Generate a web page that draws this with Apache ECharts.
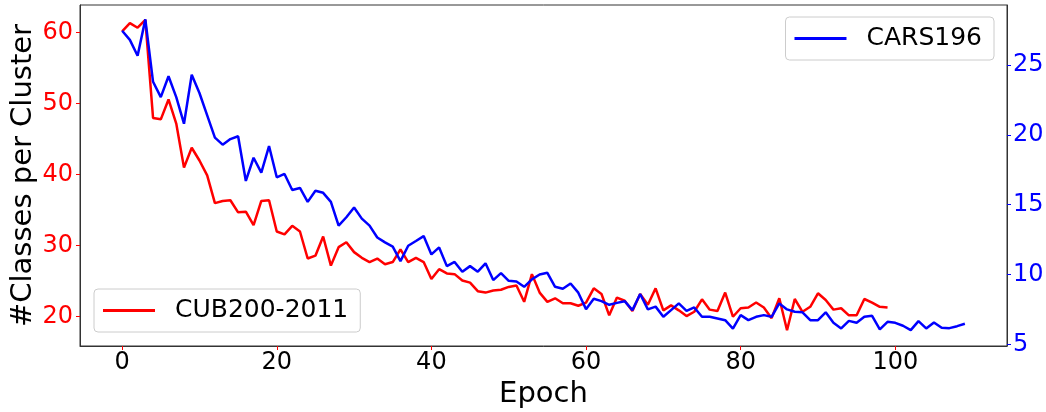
<!DOCTYPE html>
<html>
<head>
<meta charset="utf-8">
<script src="https://cdn.jsdelivr.net/npm/echarts@6/dist/echarts.min.js"></script>
<style>html,body{margin:0;padding:0;background:#fff;}#c{width:1046px;height:412px;}</style>
</head>
<body>
<div id="c"></div>
<script>
const cubValues = [60.2,61.35,60.7,61.8,48.0,47.8,50.6,47.2,41.0,43.8,42.0,39.9,36.0,36.3,36.4,34.7,34.8,32.9,36.3,36.4,
32.0,31.6,32.8,32.0,28.2,28.6,31.3,27.2,29.8,30.5,29.1,28.3,27.7,28.2,27.4,27.7,29.5,27.7,28.3,27.7,
25.3,26.7,26.1,26.0,25.1,24.8,23.6,23.4,23.7,23.8,24.2,24.4,22.1,26.0,23.4,22.1,22.6,21.9,21.9,21.55,
22.0,24.0,23.2,20.2,22.7,22.25,20.8,23.2,21.7,24.0,20.9,21.6,20.9,20.1,20.7,22.45,21.0,20.8,23.4,20.0,
21.2,21.3,22.0,21.3,19.8,22.6,18.1,22.5,20.7,21.4,23.3,22.35,21.0,21.2,20.2,20.2,22.5,22.0,21.4,21.3];
const carsValues = [27.46,26.8,25.67,28.27,23.8,22.7,24.2,22.7,20.8,24.3,23.0,21.4,19.8,19.3,19.7,19.9,16.7,18.36,17.3,19.2,
16.96,17.2,16.05,16.2,15.2,16.0,15.85,15.2,13.5,14.1,14.8,14.0,13.5,12.65,12.3,12.0,10.96,12.06,12.4,12.75,
11.44,11.94,10.6,10.9,10.2,10.6,10.2,10.8,9.6,10.1,9.55,9.5,9.12,9.65,10.0,10.12,9.12,8.98,9.36,8.7,
7.52,8.26,8.09,7.83,7.97,8.09,7.45,8.6,7.5,7.7,6.97,7.45,7.93,7.4,7.64,6.97,6.97,6.85,6.73,6.13,
7.09,6.73,6.97,7.09,6.97,7.93,7.5,7.33,7.29,6.73,6.73,7.29,6.54,6.14,6.68,6.54,6.97,7.04,6.07,6.61,
6.54,6.33,6.02,6.66,6.14,6.57,6.18,6.16,6.3,6.47];
const xTicks = [0,20,40,60,80,100];
const leftTicks = [20,30,40,50,60];
const rightTicks = [5,10,15,20,25];
const seriesNames = ['CUB200-2011','CARS196'];

const FONT = 'DejaVu Sans';
const chart = echarts.init(document.getElementById('c'), null, {renderer:'canvas'});
const toPairs = arr => arr.map((v,i)=>[i,v]);
const legendBase = {
  orient:'vertical', icon:'rect', itemWidth:52, itemHeight:3,
  backgroundColor:'rgba(255,255,255,0.8)', borderColor:'#cccccc', borderWidth:1, borderRadius:4,
  textStyle:{fontFamily:FONT, fontSize:25, color:'#000', padding:[0,0,0,15]}
};
chart.setOption({
  animation:false,
  grid:{left:80,right:39,top:5,bottom:66,show:true,borderColor:'#333',borderWidth:1,backgroundColor:'transparent',
    containLabel:false,outerBoundsMode:'none'},
  xAxis:{type:'value',min:-5.45,max:114.45,
    name:'Epoch',nameLocation:'middle',nameGap:34,nameMoveOverlap:false,
    nameTextStyle:{fontFamily:FONT,fontSize:29,color:'#000'},
    axisLine:{show:true,onZero:false,lineStyle:{color:'#333'}},
    axisTick:{show:true,length:4,lineStyle:{color:'#ff0000'},customValues:xTicks},
    axisLabel:{fontFamily:FONT,fontSize:24,color:'#000',margin:5,customValues:xTicks},
    splitLine:{show:false}},
  yAxis:[
    {type:'value',position:'left',min:15.88,max:63.9,
      name:'#Classes per Cluster',nameLocation:'middle',nameGap:42,nameRotate:90,nameMoveOverlap:false,
      nameTextStyle:{fontFamily:FONT,fontSize:29,color:'#000'},
      axisLine:{show:true,onZero:false,lineStyle:{color:'#333'}},
      axisTick:{show:true,length:4,lineStyle:{color:'#ff0000'},customValues:leftTicks},
      axisLabel:{fontFamily:FONT,fontSize:24,color:'#ff0000',margin:7,customValues:leftTicks},
      splitLine:{show:false}},
    {type:'value',position:'right',min:4.88,max:29.3,
      axisLine:{show:true,onZero:false,lineStyle:{color:'#333'}},
      axisTick:{show:true,length:4,lineStyle:{color:'#0000ff'},customValues:rightTicks},
      axisLabel:{fontFamily:FONT,fontSize:24,color:'#0000ff',margin:6,customValues:rightTicks},
      splitLine:{show:false}}
  ],
  legend:[
    Object.assign({},legendBase,{data:[seriesNames[0]],left:94,top:289,padding:[9,12,9,9]}),
    Object.assign({},legendBase,{data:[seriesNames[1]],right:52,top:17,padding:[9,12,9,9]})
  ],
  series:[
    {name:seriesNames[0],type:'line',yAxisIndex:0,data:toPairs(cubValues),showSymbol:false,symbol:'none',
      lineStyle:{color:'#ff0000',width:2.5},itemStyle:{color:'#ff0000'},z:2},
    {name:seriesNames[1],type:'line',yAxisIndex:1,data:toPairs(carsValues),showSymbol:false,symbol:'none',
      lineStyle:{color:'#0000ff',width:2.5},itemStyle:{color:'#0000ff'},z:3}
  ]
});
</script>
</body>
</html>
